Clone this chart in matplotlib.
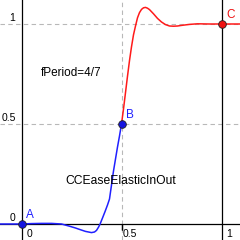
import matplotlib
matplotlib.use("Agg")
import matplotlib.pyplot as plt

plt.rcParams['font.family'] = ['Liberation Sans', 'DejaVu Sans']

# blue half (x <= 0.5)
blue_x = [-0.11, 0.0, 0.05, 0.10, 0.15, 0.20, 0.24, 0.27, 0.29, 0.32, 0.35, 0.365, 0.375,
          0.385, 0.393, 0.405, 0.418, 0.43, 0.44, 0.45, 0.46, 0.47, 0.48, 0.49, 0.50]
blue_y = [0.0, 0.0, 0.002, 0.003, 0.003, 0.0, -0.011, -0.02, -0.027, -0.037, -0.043, -0.040, -0.032,
          -0.016, 0.0, 0.03, 0.063, 0.095, 0.125, 0.195, 0.265, 0.325, 0.385, 0.44, 0.50]

# red half (x >= 0.5)
red_x = [0.50, 0.51, 0.52, 0.53, 0.54, 0.55, 0.56, 0.57, 0.58, 0.59, 0.60, 0.61, 0.62, 0.63,
         0.64, 0.66, 0.68, 0.70, 0.72, 0.74, 0.76, 0.78, 0.80, 0.84, 0.88, 0.94, 1.0, 1.1]
red_y = [0.50, 0.575, 0.657, 0.739, 0.817, 0.886, 0.946, 0.99, 1.031, 1.057, 1.073, 1.081, 1.083, 1.079,
         1.072, 1.051, 1.028, 1.01, 0.997, 0.99, 0.989, 0.99, 0.993, 0.998, 1.001, 1.0, 1.0, 1.0]

pt_names = ['A', 'B', 'C']
pt_x = [0.0, 0.5, 1.0]
pt_y = [0.0, 0.5, 1.0]
pt_colors = ['#1515e0', '#1515e0', '#ee1111']

ticks = [0, 0.5, 1]
tick_labels = ['0', '0.5', '1']

fig = plt.figure(figsize=(2.4, 2.4), dpi=100)
ax = fig.add_axes([0, 0, 1, 1])
ax.set_xlim(-0.1075, 1.0925)
ax.set_ylim(-0.08, 1.12)
ax.axis('off')

# dashed grid
for v in [0.5, 1]:
    ax.axhline(v, color='#b8b8b8', lw=0.8, ls=(0, (4, 3)), zorder=1)
ax.axvline(0.5, color='#b8b8b8', lw=0.8, ls=(0, (4, 3)), zorder=1)

# axes
ax.axhline(0, color='black', lw=0.9, zorder=2)
ax.axvline(0, color='black', lw=0.9, zorder=2)
ax.axvline(1, color='black', lw=0.9, zorder=2)

# tick labels
for v, s in zip(ticks, tick_labels):
    ax.annotate(s, (v, 0), xytext=(5.8, -7.5), textcoords='offset points',
                ha='center', va='center', fontsize=7.5)
    ax.annotate(s, (0, v), xytext=(-4.3, 4.2), textcoords='offset points',
                ha='right', va='center', fontsize=7.5)
ax.plot([0.5, 0.5], [0, 0], marker=3, color='black', ms=4, mew=0.9, zorder=2)

# curve
ax.plot(blue_x, blue_y, color='#2020ff', lw=1.1, zorder=3)
ax.plot(red_x, red_y, color='#ff1a1a', lw=1.1, zorder=3)

# points
for name, x, y, c in zip(pt_names, pt_x, pt_y, pt_colors):
    ax.plot(x, y, 'o', color=c, mec='#202020', mew=0.6, ms=5.5, zorder=4)
    ax.annotate(name, (x, y), xytext=(3.3, 6.5), textcoords='offset points',
                ha='left', va='center', fontsize=8.5, color='#2020ff' if name != 'C' else '#ee1111')

ax.text(0.096, 0.7565, 'fPeriod=4/7', fontsize=8.5, ha='left', va='center')
ax.text(0.2175, 0.2165, 'CCEaseElasticInOut', fontsize=8.7, ha='left', va='center')

fig.savefig('out.png', dpi=100)
